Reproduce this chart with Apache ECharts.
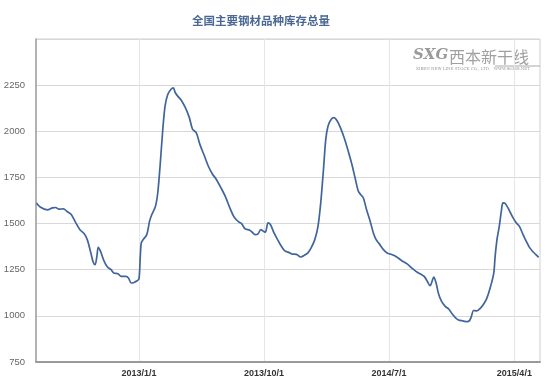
<!DOCTYPE html>
<html>
<head>
<meta charset="utf-8">
<script src="https://cdn.jsdelivr.net/npm/echarts@6/dist/echarts.min.js"></script>
<style>
html,body{margin:0;padding:0;background:#fff;}
#chart{width:554px;height:385px;}
</style>
</head>
<body>
<div id="chart"></div>
<script>
var titleText = '全国主要钢材品种库存总量';
var xTickDates = ['2013-01-01', '2013-10-01', '2014-07-01', '2015-04-01'];
var xTickLabels = ['2013/1/1', '2013/10/1', '2014/7/1', '2015/4/1'];
var yTicks = [750, 1000, 1250, 1500, 1750, 2000, 2250];

var dates = [
'2012-05-22','2012-05-31','2012-06-15','2012-06-26','2012-07-03','2012-07-10','2012-07-20','2012-07-28','2012-08-06','2012-08-16',
'2012-08-25','2012-09-03','2012-09-10','2012-09-17','2012-09-23','2012-09-27','2012-10-01','2012-10-04','2012-10-09','2012-10-17',
'2012-10-24','2012-11-01','2012-11-07','2012-11-16','2012-11-23','2012-12-03','2012-12-09','2012-12-15','2012-12-21','2012-12-28',
'2013-01-01','2013-01-04','2013-01-06','2013-01-10','2013-01-18','2013-01-24','2013-01-29','2013-02-06','2013-02-11','2013-02-16',
'2013-02-22','2013-02-27','2013-03-05','2013-03-12','2013-03-17','2013-03-21','2013-03-27','2013-04-03','2013-04-12','2013-04-21',
'2013-04-28','2013-05-06','2013-05-14','2013-05-24','2013-06-02','2013-06-11','2013-06-18','2013-06-29','2013-07-09','2013-07-17',
'2013-07-26','2013-08-01','2013-08-08','2013-08-13','2013-08-21','2013-08-31','2013-09-07','2013-09-12','2013-09-18','2013-09-24',
'2013-09-30','2013-10-04','2013-10-10','2013-10-15','2013-10-23','2013-11-01','2013-11-08','2013-11-15','2013-11-24','2013-12-01',
'2013-12-11','2013-12-20','2013-12-27',
'2014-01-05','2014-01-12','2014-01-20','2014-01-27','2014-02-02','2014-02-08','2014-02-13','2014-02-18','2014-02-25','2014-03-03',
'2014-03-10','2014-03-17','2014-03-25','2014-04-03','2014-04-11','2014-04-18','2014-04-25','2014-04-30','2014-05-06','2014-05-13',
'2014-05-21','2014-05-28','2014-06-03','2014-06-10','2014-06-19','2014-06-27','2014-07-07','2014-07-18','2014-07-29','2014-08-09',
'2014-08-20','2014-08-29','2014-09-07','2014-09-16','2014-09-23','2014-09-29','2014-10-02','2014-10-07','2014-10-12','2014-10-17',
'2014-10-24','2014-11-01','2014-11-09','2014-11-16','2014-11-23','2014-11-30','2014-12-09','2014-12-19','2014-12-24','2014-12-28',
'2015-01-02','2015-01-09','2015-01-17','2015-01-24','2015-01-31','2015-02-08','2015-02-15','2015-02-18','2015-02-22','2015-02-27',
'2015-03-04','2015-03-07','2015-03-12','2015-03-20','2015-03-28','2015-04-05','2015-04-12','2015-04-19','2015-04-27','2015-05-04',
'2015-05-11','2015-05-18','2015-05-24'
];

var inventory = [
1612,1588,1574,1585,1587,1578,1580,1565,1549,1504,
1467,1446,1413,1349,1290,1277,1322,1371,1349,1295,
1265,1250,1232,1228,1214,1214,1205,1178,1181,1190,
1200,1330,1395,1413,1440,1512,1549,1594,1667,1811,
2011,2138,2201,2228,2235,2210,2189,2170,2129,2074,
2011,1993,1929,1866,1808,1766,1743,1694,1645,1594,
1543,1522,1507,1500,1471,1464,1449,1440,1444,1467,
1458,1453,1504,1495,1449,1408,1377,1353,1344,1335,
1333,1319,1326,
1341,1368,1413,1485,1612,1793,1956,2029,2065,2074,
2056,2020,1966,1893,1821,1748,1676,1658,1640,1576,
1512,1449,1413,1390,1359,1341,1332,1319,1299,1283,
1259,1241,1228,1214,1186,1163,1178,1210,1178,1123,
1078,1051,1036,1011,991,978,973,969,974,996,
1029,1027,1042,1064,1096,1159,1232,1322,1413,1485,
1576,1612,1609,1576,1536,1504,1485,1446,1404,1371,
1349,1332,1317
];

function ts(s) {
  var p = s.split('-');
  return new Date(+p[0], +p[1] - 1, +p[2]).getTime();
}
var tickTs = xTickDates.map(ts);
var seriesData = dates.map(function (d, i) { return [ts(d), inventory[i]]; });

var chart = echarts.init(document.getElementById('chart'), null, {renderer: 'canvas'});
chart.setOption({
  animation: false,
  backgroundColor: '#fff',
  title: {
    text: titleText,
    left: 187,
    top: 9,
    textStyle: {fontSize: 11.5, fontWeight: 'bold', color: '#4a6892', fontFamily: 'Noto Sans CJK SC', lineHeight: 14}
  },
  grid: {left: 36, right: 14, top: 39, bottom: 23, show: true, borderColor: '#cfcfcf', borderWidth: 1, containLabel: false, outerBoundsMode: 'none'},
  xAxis: {
    type: 'value',
    min: ts('2012-05-21'),
    max: ts('2015-05-27'),
    axisLine: {show: true, lineStyle: {color: '#9a9a9a', width: 2}},
    axisTick: {show: false, customValues: tickTs},
    axisLabel: {
      customValues: tickTs,
      color: '#333',
      fontSize: 9,
      fontWeight: 'bold',
      fontFamily: 'Liberation Sans',
      margin: 7,
      formatter: function (v) {
        var i = tickTs.indexOf(v);
        return i >= 0 ? xTickLabels[i] : '';
      }
    },
    splitLine: {show: true, lineStyle: {color: '#e6e6e6', width: 1}}
  },
  yAxis: {
    type: 'value',
    min: 750,
    max: 2500,
    interval: 250,
    axisLine: {show: true, lineStyle: {color: '#a0a0a0', width: 1.5}},
    axisTick: {show: false},
    axisLabel: {
      color: '#666',
      fontSize: 9.5,
      fontFamily: 'Liberation Sans',
      margin: 11,
      formatter: function (v) { return yTicks.indexOf(v) >= 0 ? String(v) : ''; }
    },
    splitLine: {show: true, lineStyle: {color: '#d8d8d8', width: 1}}
  },
  graphic: [
    {type: 'text', left: 413, top: 48, style: {text: 'SXG', fontSize: 15, fontWeight: 'bold', fontStyle: 'italic', fill: '#9a9a9a', fontFamily: 'DejaVu Serif'}},
    {type: 'text', left: 449, top: 49, style: {text: '西本新干线', fontSize: 16, fill: '#a0a0a0', fontFamily: 'Noto Sans CJK SC'}},
    {type: 'line', shape: {x1: 495, y1: 66, x2: 540, y2: 66}, style: {stroke: '#aaa', lineWidth: 1}},
    {type: 'text', left: 416, top: 67, style: {text: 'XIBEN NEW LINE STOCK CO., LTD.   WWW.96369.NET', fontSize: 4, fill: '#999', fontFamily: 'DejaVu Serif'}}
  ],
  series: [{
    type: 'line',
    data: seriesData,
    showSymbol: false,
    smooth: 0.3,
    lineStyle: {color: '#3f659c', width: 1.7},
    itemStyle: {color: '#3f659c'}
  }]
});
</script>
</body>
</html>
